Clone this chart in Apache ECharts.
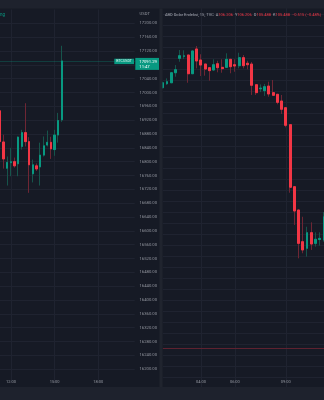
<!DOCTYPE html>
<html>
<head>
<meta charset="utf-8">
<script src="https://cdn.jsdelivr.net/npm/echarts@6/dist/echarts.min.js"></script>
<style>
  html, body { margin: 0; padding: 0; background: #161a25; }
  #chart { width: 324px; height: 400px; }
</style>
</head>
<body>
<div id="chart"></div>
<script>
// Sol panel: BTCUSDT 15 dk mumlar
const btcStart = '11:15';
const btcSlots = 38;
const btcTicks = ['12:00', '15:00', '18:00'];
const btcOpen  = [16947, 16857, 16781, 16797, 16800, 16794, 16844, 16884, 16858, 16765, 16788, 16785, 16819, 16848, 16856, 16835, 16877, 16921];
const btcClose = [16858, 16808, 16798, 16800, 16788, 16871, 16884, 16858, 16791, 16791, 16779, 16819, 16846, 16856, 16837, 16877, 16919, 17091.29];
const btcLow   = [16852, 16780, 16731, 16758, 16783, 16758, 16835, 16844, 16710, 16740, 16773, 16731, 16815, 16844, 16808, 16817, 16855, 16915];
const btcHigh  = [16950, 16878, 16815, 16840, 16812, 16873, 16892, 16969, 16871, 16806, 16795, 16855, 16873, 16890, 16872, 16892, 16941, 17135];
const btcCountdown = '11:47';

// Sag panel: ABD Dolar Endeksi
const dxyStart = '01:45';
const dxySlots = 39;
const dxyTicks = ['04:00', '06:00', '09:00'];
const dxyOpen  = [106.530, 106.566, 106.575, 106.666, 106.797, 106.815, 106.827, 106.657, 106.882, 106.782, 106.745, 106.712, 106.691, 106.748, 106.715, 106.715, 106.788, 106.739, 106.730, 106.803, 106.752, 106.745, 106.557, 106.520, 106.503, 106.545, 106.485, 106.470, 106.409, 106.348, 106.194, 105.630, 105.418, 105.130, 105.070, 105.212, 105.115, 105.150, 105.145];
const dxyClose = [106.575, 106.585, 106.666, 106.694, 106.821, 106.820, 106.657, 106.864, 106.773, 106.736, 106.700, 106.685, 106.739, 106.712, 106.703, 106.788, 106.721, 106.727, 106.803, 106.730, 106.739, 106.552, 106.485, 106.526, 106.539, 106.473, 106.461, 106.397, 106.334, 106.188, 105.625, 105.409, 105.115, 105.055, 105.212, 105.109, 105.152, 105.160, 105.357];
const dxyLow   = [106.524, 106.555, 106.572, 106.630, 106.766, 106.790, 106.575, 106.655, 106.706, 106.636, 106.639, 106.594, 106.685, 106.670, 106.666, 106.713, 106.661, 106.675, 106.706, 106.706, 106.697, 106.464, 106.464, 106.490, 106.455, 106.448, 106.458, 106.379, 106.291, 106.170, 105.575, 105.282, 104.979, 105.025, 104.994, 105.055, 105.085, 105.094, 105.130];
const dxyHigh  = [106.585, 106.615, 106.668, 106.736, 106.873, 106.870, 106.830, 106.866, 106.909, 106.834, 106.748, 106.714, 106.788, 106.775, 106.788, 106.843, 106.790, 106.788, 106.848, 106.827, 106.775, 106.764, 106.560, 106.560, 106.564, 106.585, 106.600, 106.472, 106.464, 106.350, 106.196, 105.632, 105.420, 105.357, 105.266, 105.306, 105.215, 105.215, 105.400];
const dxyRefLine = 104.16;
const dxyHeader = ['106.206', '106.206', '105.488', '105.488', '\u22120.515 (\u22120.48%)'];

const UP = '#089981', DOWN = '#f23645';
const UP_WICK = '#16544b', DOWN_WICK = '#6e2634';
const GRID = '#1f2330';
const TXT = '#9598a1';
const font = 'Roboto, "Liberation Sans", sans-serif';

function timeSlots(start, n) {
    var p = start.split(':').map(Number);
    var t = p[0] * 60 + p[1];
    var out = [];
    for (var i = 0; i < n; i++) {
        var m = (t + i * 15) % 1440;
        out.push(String(Math.floor(m / 60)).padStart(2, '0') + ':' + String(m % 60).padStart(2, '0'));
    }
    return out;
}

function wickData(o, c, l, h) {
    return o.map(function (v, i) { return [o[i], c[i], l[i], h[i]]; });
}
function bodyData(o, c) {
    return o.map(function (v, i) { return [o[i], c[i], Math.min(o[i], c[i]), Math.max(o[i], c[i])]; });
}

const btcCats = timeSlots(btcStart, btcSlots);
const dxyCats = timeSlots(dxyStart, dxySlots);

function xAxisFor(gridIndex, cats, ticks, offset) {
    var pick = function (i, v) { return ticks.indexOf(v) >= 0; };
    return {
        type: 'category', gridIndex: gridIndex, data: cats, boundaryGap: false,
        offset: offset,
        axisLine: { show: false }, axisTick: { show: false },
        axisLabel: { interval: pick, margin: 0, color: TXT, fontSize: 4, fontFamily: font },
        splitLine: { show: true, interval: pick, lineStyle: { color: GRID, width: 1 } }
    };
}

function candle(name, xi, data, up, down, width, extra) {
    return Object.assign({
        name: name, type: 'candlestick', xAxisIndex: xi, yAxisIndex: xi,
        data: data, barWidth: width,
        itemStyle: { color: up, color0: down, borderColor: up, borderColor0: down, borderWidth: 1 },
        emphasis: { disabled: true }
    }, extra || {});
}

var chart = echarts.init(document.getElementById('chart'), null, { renderer: 'canvas' });

var option = {
    animation: false,
    backgroundColor: '#161a25',
    grid: [
        { left: -0.35, top: 9.46, width: 135.05, height: 373.64 },
        { left: 162.75, top: 3, right: -0.25, height: 385 }
    ],
    xAxis: [
        xAxisFor(0, btcCats, btcTicks, -3),
        xAxisFor(1, dxyCats, dxyTicks, -8)
    ],
    yAxis: [
        {
            type: 'value', gridIndex: 0, position: 'right',
            min: 16160, max: 17240, interval: 40,
            axisLine: { show: false }, axisTick: { show: false },
            axisLabel: {
                margin: 4.8, color: TXT, fontSize: 4.2, fontFamily: font,
                showMinLabel: false, showMaxLabel: false,
                formatter: function (v) { return v.toFixed(2); }
            },
            splitLine: { lineStyle: { color: GRID, width: 1 }, showMinLine: false, showMaxLine: false }
        },
        {
            type: 'value', gridIndex: 1, position: 'right',
            min: 103.8, max: 107.3, interval: 0.1,
            axisLine: { show: false }, axisTick: { show: false },
            axisLabel: { show: false },
            splitLine: { lineStyle: { color: GRID, width: 1 } }
        }
    ],
    series: [
        candle('btc-wick', 0, wickData(btcOpen, btcClose, btcLow, btcHigh), UP_WICK, DOWN_WICK, 1.8),
        candle('btc', 0, bodyData(btcOpen, btcClose), UP, DOWN, 1.8, {
            markLine: {
                silent: true, symbol: 'none', animation: false,
                label: { show: false },
                lineStyle: { color: UP, opacity: 0.28, type: 'solid', width: 1 },
                data: [{ yAxis: btcClose[btcClose.length - 1] }]
            }
        }),
        candle('dxy-wick', 1, wickData(dxyOpen, dxyClose, dxyLow, dxyHigh), UP_WICK, DOWN_WICK, 2.4),
        candle('dxy', 1, bodyData(dxyOpen, dxyClose), UP, DOWN, 2.4, {
            markLine: {
                silent: true, symbol: 'none', animation: false,
                label: { show: false },
                lineStyle: { color: '#5e2230', type: 'solid', width: 1 },
                data: [{ yAxis: dxyRefLine }]
            }
        })
    ]
};
chart.setOption(option);

// Etiketler: fiyat cizgisinin piksel konumu eksenden okunur
var last = btcClose[btcClose.length - 1];
var py = chart.convertToPixel({ yAxisIndex: 0 }, last);

var graphics = [
    { type: 'rect', z: 100, silent: true, shape: { x: 0, y: 0, width: 324, height: 8.5 }, style: { fill: '#1e222d' } },
    { type: 'rect', z: 100, silent: true, shape: { x: 0, y: 387, width: 324, height: 13 }, style: { fill: '#1e222d' } },
    { type: 'rect', z: 100, silent: true, shape: { x: 159.5, y: 8.5, width: 3, height: 378.5 }, style: { fill: '#20242e' } },
    { type: 'text', z: 101, silent: true, style: { text: 'ng', x: 5, y: 14.8, align: 'right', verticalAlign: 'middle', fill: UP, fontSize: 4.5, fontFamily: font } },
    { type: 'text', z: 101, silent: true, style: { text: 'USDT', x: 139.5, y: 14.3, align: 'left', verticalAlign: 'middle', fill: TXT, fontSize: 4.2, fontFamily: font } },
    {
        type: 'text', z: 101, silent: true,
        style: {
            x: 165, y: 14.7, verticalAlign: 'middle', fontSize: 4, fontFamily: font, fill: '#a3a6af',
            text: '{n|ABD Dolar Endeksi, 1S, TVC}  {l|A}{v|' + dxyHeader[0] + '}  {l|Y}{v|' + dxyHeader[1] +
                  '}  {l|D}{v|' + dxyHeader[2] + '}  {l|K}{v|' + dxyHeader[3] + '}  {v|' + dxyHeader[4] + '}',
            rich: {
                n: { fill: '#a3a6af', fontSize: 4, fontFamily: font },
                l: { fill: '#a3a6af', fontSize: 4, fontFamily: font },
                v: { fill: DOWN, fontSize: 4, fontFamily: font }
            }
        }
    },
    // BTCUSDT etiketi
    { type: 'rect', z: 102, silent: true, shape: { x: 114.3, y: py - 2.2, width: 19.7, height: 5.4 }, style: { fill: UP } },
    { type: 'text', z: 103, silent: true, style: { text: 'BTCUSDT', x: 124.1, y: py + 0.5, align: 'center', verticalAlign: 'middle', fill: '#e6f4f1', fontSize: 3.6, fontFamily: font } },
    // fiyat kutusu
    { type: 'rect', z: 102, silent: true, shape: { x: 135.3, y: py - 3, width: 23.7, height: 12 }, style: { fill: UP } },
    { type: 'text', z: 103, silent: true, style: { text: last.toFixed(2), x: 139.3, y: py + 0.7, align: 'left', verticalAlign: 'middle', fill: '#ffffff', fontSize: 4.2, fontFamily: font } },
    { type: 'text', z: 103, silent: true, style: { text: btcCountdown, x: 139.3, y: py + 5.7, align: 'left', verticalAlign: 'middle', fill: '#ffffff', fontSize: 4.2, fontFamily: font } }
];
chart.setOption({ graphic: graphics });
</script>
</body>
</html>
